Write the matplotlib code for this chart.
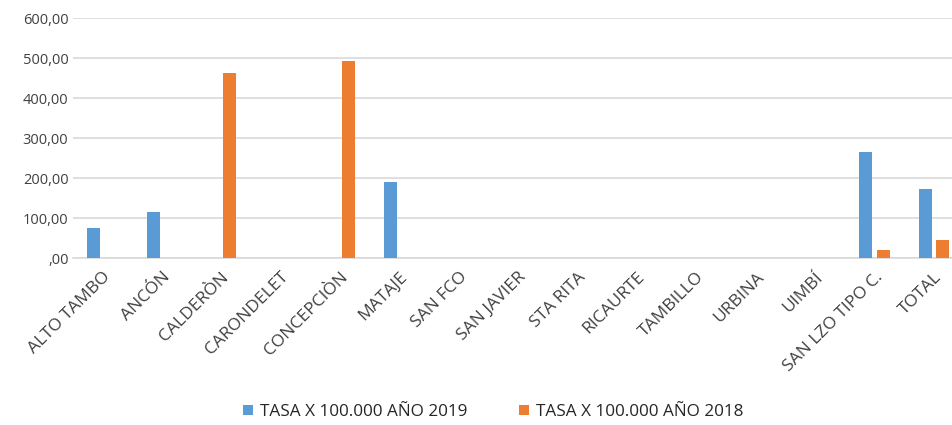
import numpy as np
from matplotlib import pyplot as plt
from matplotlib.ticker import FuncFormatter

categorias = ['ALTO TAMBO', 'ANCÓN', 'CALDERÒN', 'CARONDELET', 'CONCEPCIÒN',
              'MATAJE', 'SAN FCO', 'SAN JAVIER', 'STA RITA', 'RICAURTE',
              'TAMBILLO', 'URBINA', 'UIMBÍ', 'SAN LZO TIPO C.', 'TOTAL']
tasa_2019 = [75, 115, 0, 0, 0, 190, 0, 0, 0, 0, 0, 0, 0, 265, 172]
tasa_2018 = [0, 0, 462, 0, 492, 0, 0, 0, 0, 0, 0, 0, 0, 20, 46]
serie_2019 = 'TASA X 100.000 AÑO 2019'
serie_2018 = 'TASA X 100.000 AÑO 2018'


def coma(v, pos):
    s = '%.2f' % v
    s = s.replace('.', ',')
    if s.startswith('0,'):
        s = s[1:]
    return s


def main():
    plt.rcParams['font.family'] = ['Open Sans', 'DejaVu Sans']
    fig = plt.figure(figsize=(9.53, 4.25), dpi=100)
    left = 72.6 / 953
    width = (15 * 59.4) / 953
    bottom = 1 - 258 / 425
    height = 240 / 425
    ax = fig.add_axes([left, bottom, width, height])

    x = np.arange(len(categorias))
    w = 0.22
    off = 0.145
    ax.bar(x - off, tasa_2019, w, color='#5B9BD5', label=serie_2019, zorder=3)
    ax.bar(x + off, tasa_2018, w, color='#ED7D31', label=serie_2018, zorder=3)

    ax.set_xlim(-0.5, len(categorias) - 0.5)
    ax.set_ylim(0, 600)
    ax.set_yticks(np.arange(0, 601, 100))
    ax.yaxis.set_major_formatter(FuncFormatter(coma))
    ax.grid(axis='y', color='#d9d9d9', linewidth=1.2, zorder=0)
    for s in ['top', 'right', 'left']:
        ax.spines[s].set_visible(False)
    ax.spines['bottom'].set_color('#d9d9d9')
    ax.spines['bottom'].set_linewidth(1.2)
    ax.tick_params(axis='both', length=0, colors='#404040')
    ax.tick_params(axis='y', pad=3, labelsize=10.5)

    ax.set_xticks(x)
    ax.set_xticklabels(categorias, rotation=45, ha='right', rotation_mode='anchor')
    ax.tick_params(axis='x', pad=8, labelsize=12.5)

    fig.legend(loc='center', bbox_to_anchor=(493 / 953, 1 - 412 / 425), ncol=2,
               frameon=False, fontsize=12.3, handlelength=0.6, handleheight=0.6,
               columnspacing=3.0, handletextpad=0.4, labelcolor='#262626')

    fig.savefig('out.png', dpi=100)


if __name__ == '__main__':
    main()
